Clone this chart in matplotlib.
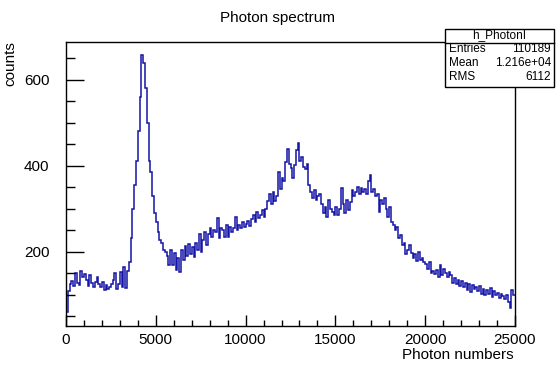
import matplotlib
matplotlib.use("Agg")
import matplotlib.pyplot as plt
import numpy as np
from matplotlib.patches import Rectangle
from matplotlib.lines import Line2D
from matplotlib.ticker import MultipleLocator

plt.rcParams['font.family'] = ['Liberation Sans', 'DejaVu Sans']

title = "Photon spectrum"
xlabel = "Photon numbers"
ylabel = "counts"
hist_name = "h_PhotonI"
stat_names = ["Entries", "Mean", "RMS"]
stat_values = ["110189", "1.216e+04", "6112"]

x_min, x_max, n_bins = 0, 25000, 250
counts = [
    60, 108, 125, 132, 120, 150, 128, 122, 155, 140,
    148, 135, 120, 145, 128, 118, 130, 142, 125, 118,
    130, 110, 122, 112, 118, 125, 134, 150, 112, 125,
    152, 118, 165, 115, 155, 175, 232, 300, 355, 410,
    480, 560, 657, 638, 580, 500, 410, 385, 330, 290,
    268, 246, 228, 220, 205, 200, 190, 168, 204, 170,
    198, 158, 185, 152, 205, 180, 213, 190, 218, 195,
    210, 188, 220, 205, 240, 200, 228, 245, 215, 240,
    255, 235, 250, 245, 278, 232, 255, 250, 235, 262,
    235, 258, 245, 255, 280, 250, 262, 255, 270, 258,
    265, 272, 260, 275, 285, 270, 292, 278, 285, 296,
    280, 300, 318, 335, 312, 340, 318, 330, 385, 345,
    372, 365, 408, 440, 405, 395, 372, 401, 436, 452,
    412, 420, 398, 392, 405, 355, 340, 325, 343, 320,
    330, 335, 310, 290, 305, 280, 320, 300, 292, 285,
    305, 285, 300, 348, 310, 290, 320, 298, 315, 343,
    330, 340, 350, 335, 348, 340, 345, 335, 365, 378,
    340, 345, 330, 335, 293, 320, 310, 325, 300, 280,
    305, 270, 262, 250, 258, 232, 238, 215, 220, 195,
    205, 215, 198, 185, 195, 178, 200, 180, 185, 175,
    172, 160, 175, 150, 155, 148, 157, 140, 168, 145,
    160, 150, 142, 153, 145, 126, 138, 125, 135, 120,
    132, 118, 128, 110, 125, 105, 122, 112, 118, 108,
    120, 102, 112, 98, 110, 102, 115, 95, 108, 100,
    104, 92, 102, 96, 90, 100, 84, 69, 110, 100,
]
x_ticks = [0, 5000, 10000, 15000, 20000, 25000]
y_ticks = [200, 400, 600]
y_range = (27, 688)

W, H = 557, 368
fig = plt.figure(figsize=(W / 100, H / 100), dpi=100)

def fx(px):
    return px / W

def fy(py):
    return 1 - py / H

ax_l, ax_r, ax_t, ax_b = 66, 515, 42, 326
ax = fig.add_axes([fx(ax_l), fy(ax_b), fx(ax_r) - fx(ax_l), fy(ax_t) - fy(ax_b)])

edges = np.linspace(x_min, x_max, n_bins + 1)
ax.stairs(counts, edges, baseline=None, color='#1414a6', lw=1.1)

ax.set_xlim(x_min, x_max)
ax.set_ylim(*y_range)
ax.set_xticks(x_ticks)
ax.set_yticks(y_ticks)
ax.xaxis.set_minor_locator(MultipleLocator(1000))
ax.yaxis.set_minor_locator(MultipleLocator(50))
ax.tick_params(axis='x', which='major', direction='in', length=8, width=1,
               labelsize=11, pad=5, top=False)
ax.tick_params(axis='x', which='minor', direction='in', length=4, width=1, top=False)
ax.tick_params(axis='y', which='major', direction='in', length=13, width=1,
               labelsize=11, pad=12, right=False)
ax.tick_params(axis='y', which='minor', direction='in', length=6.5, width=1, right=False)
for s in ax.spines.values():
    s.set_linewidth(1.0)
    s.set_color('black')

fig.text(fx(278), fy(18), title, ha='center', va='center', fontsize=11)
fig.text(fx(514), fy(355), xlabel, ha='right', va='center', fontsize=11)
fig.text(fx(10), fy(41), ylabel, ha='center', va='top', rotation=90, fontsize=11)

# stats box
bx_l, bx_r, bx_t, bx_b = 445, 554, 29, 87
fig.add_artist(Rectangle((fx(bx_l), fy(bx_b)), fx(bx_r) - fx(bx_l), fy(bx_t) - fy(bx_b),
                         transform=fig.transFigure, facecolor='white', edgecolor='black',
                         lw=1.0, zorder=10))
fig.add_artist(Line2D([fx(bx_l), fx(bx_r)], [fy(43), fy(43)], transform=fig.transFigure,
                      color='black', lw=1.0, zorder=11))
fig.text(fx((bx_l + bx_r) / 2), fy(35.5), hist_name, ha='center', va='center',
         fontsize=8.5, zorder=12)
row_y = [49.5, 63.5, 77.5]
for name, val, ry in zip(stat_names, stat_values, row_y):
    fig.text(fx(449), fy(ry), name, ha='left', va='center', fontsize=8.5, zorder=12)
    fig.text(fx(551), fy(ry), val, ha='right', va='center', fontsize=8.5, zorder=12)

fig.savefig("out.png", dpi=100)
